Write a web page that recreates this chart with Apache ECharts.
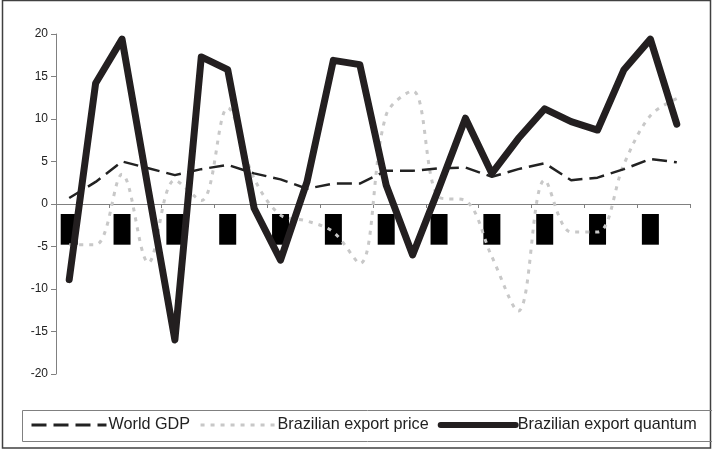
<!DOCTYPE html>
<html>
<head>
<meta charset="utf-8">
<script src="https://cdn.jsdelivr.net/npm/echarts@6/dist/echarts.min.js"></script>
<style>
  html, body { margin: 0; padding: 0; background: #fff; }
  #chart { width: 712px; height: 451px; }
</style>
</head>
<body>
<div id="chart"></div>
<script>
// data
const years = ['1982', '1983', '1984', '1985', '1986', '1987', '1988', '1989', '1990', '1991', '1992', '1993',
  '1994', '1995', '1996', '1997', '1998', '1999', '2000', '2001', '2002', '2003', '2004', '2005']
const worldGdp = [0.7, 2.6, 5.0, 4.2, 3.4, 4.1, 4.6, 3.6, 2.9, 1.8, 2.4, 2.4,
  3.9, 3.9, 4.2, 4.3, 3.2, 4.1, 4.8, 2.8, 3.1, 4.1, 5.3, 4.9]
const exportPrice = [-4.8, -4.8, 3.5, -6.9, 2.8, 0.4, 11.3, 3.0, -1.3, -2.0, -3.3, -7.0,
  10.5, 13.3, 0.8, 0.4, -6.2, -12.6, 2.8, -3.3, -3.3, 4.7, 10.4, 12.4]
const exportQuantum = [-8.9, 14.2, 19.4, 1.6, -16.0, 17.3, 15.8, -0.5, -6.6, 2.6, 16.9, 16.4,
  2.2, -6.0, 1.9, 10.1, 3.6, 7.7, 11.2, 9.7, 8.7, 15.8, 19.4, 9.4]
const yTicks = { min: -20, max: 20, step: 5 }

const font = '"Liberation Sans", Arial, sans-serif'
const chart = echarts.init(document.getElementById('chart'))

const option = {
  animation: false,
  backgroundColor: '#fff',
  textStyle: { fontFamily: font },
  grid: { left: 56, right: 22, top: 34, bottom: 77 },
  graphic: [
    {
      type: 'rect', silent: true, z: -1,
      shape: { x: 2.5, y: 0.5, width: 708, height: 447.5 },
      style: { fill: 'none', stroke: '#404040', lineWidth: 1.5 }
    },
    {
      type: 'rect', silent: true, z: -1,
      shape: { x: 22.5, y: 410.5, width: 690, height: 31 },
      style: { fill: 'none', stroke: '#808080', lineWidth: 1 }
    }
  ],
  legend: {
    left: 30,
    top: 417,
    itemWidth: 75,
    itemHeight: 14,
    itemGap: 9,
    padding: 0,
    itemStyle: { opacity: 0 },
    textStyle: { fontSize: 16.2, color: '#222', fontFamily: font, padding: [0, 0, 0, -3] },
    data: [
      { name: 'World GDP', lineStyle: { width: 3 } },
      { name: 'Brazilian export price', lineStyle: { width: 3 } },
      { name: 'Brazilian export quantum', lineStyle: { width: 6, cap: 'round' } }
    ]
  },
  xAxis: {
    type: 'category',
    data: years,
    boundaryGap: true,
    // the axis sits at y = 0, i.e. halfway up the grid
    offset: -170,
    axisLine: { onZero: false, lineStyle: { color: '#808080', width: 1 } },
    axisTick: { show: true, inside: false, length: 4, lineStyle: { color: '#808080' } },
    axisLabel: {
      interval: 1,
      rotate: 90,
      margin: 10,
      fontSize: 12,
      color: '#000',
      backgroundColor: '#000',
      padding: [2, 2, 2, 2],
      lineHeight: 13
    },
    splitLine: { show: false }
  },
  yAxis: {
    type: 'value',
    min: yTicks.min,
    max: yTicks.max,
    interval: yTicks.step,
    axisLine: { show: true, lineStyle: { color: '#808080', width: 1 } },
    axisTick: { show: true, length: 5, lineStyle: { color: '#808080' } },
    axisLabel: { fontSize: 12, color: '#222', margin: 8 },
    splitLine: { show: false }
  },
  series: [
    {
      name: 'World GDP',
      type: 'line',
      data: worldGdp,
      symbol: 'none',
      z: 3,
      itemStyle: { color: '#222' },
      lineStyle: { color: '#222', width: 2.5, type: [15, 7] }
    },
    {
      name: 'Brazilian export price',
      type: 'line',
      data: exportPrice,
      symbol: 'none',
      smooth: 0.35,
      z: 2,
      itemStyle: { color: '#c8c8c8' },
      lineStyle: { color: '#c8c8c8', width: 3, type: [4, 6] }
    },
    {
      name: 'Brazilian export quantum',
      type: 'line',
      data: exportQuantum,
      symbol: 'none',
      z: 4,
      itemStyle: { color: '#231f20' },
      lineStyle: { color: '#231f20', width: 7, cap: 'round', join: 'round' }
    }
  ]
}

chart.setOption(option)
</script>
</body>
</html>
